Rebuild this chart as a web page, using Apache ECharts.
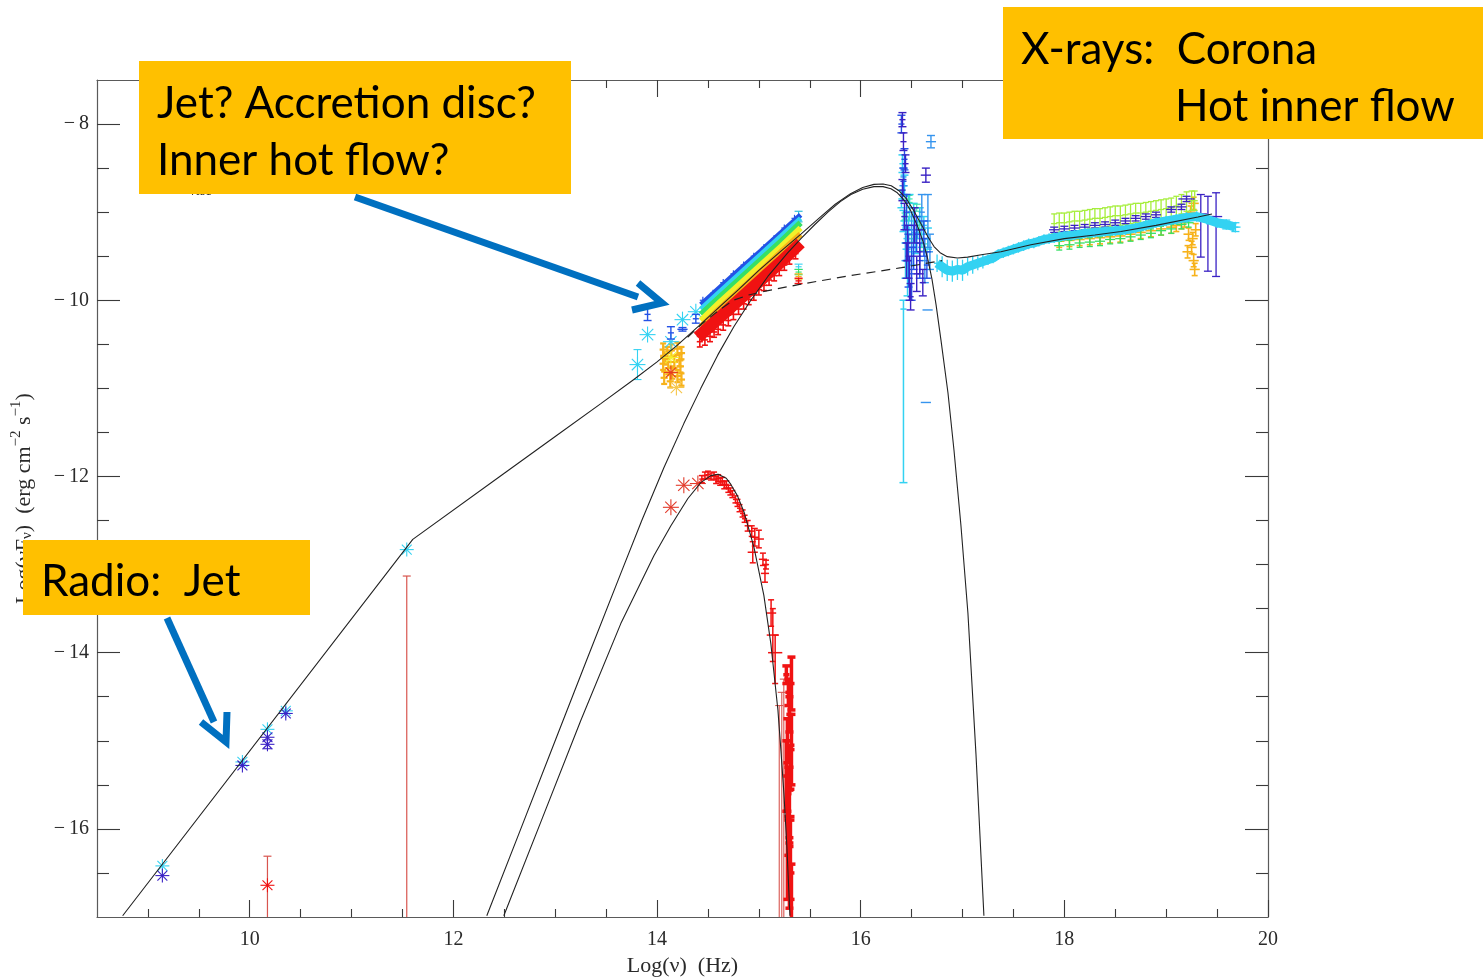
<!DOCTYPE html>
<html>
<head>
<meta charset="utf-8">
<script src="https://cdn.jsdelivr.net/npm/echarts@6/dist/echarts.min.js"></script>
<style>
  html, body { margin: 0; padding: 0; background: #fff; }
  #chart { width: 1483px; height: 978px; }
</style>
</head>
<body>
<div id="chart"></div>
<script>
// ---------------- axes ----------------
const xRange = [8.5, 20];
const yRange = [-17, -7.5];
const xMajorTicks = [10, 12, 14, 16, 18, 20];
const xMinorTicks = [9, 9.5, 10.5, 11, 11.5, 12.5, 13, 13.5, 14.5, 15, 15.5, 16.5, 17, 17.5, 18.5, 19, 19.5];
const yMajorTicks = [-16, -14, -12, -10, -8];
const yMinorTicks = [-16.5, -15.5, -15, -14.5, -13.5, -13, -12.5, -11.5, -11, -10.5, -9.5, -9, -8.5];

// ---------------- model curves: log(nu), log(nu F_nu) ----------------
const modelTotal = [
  [8.752, -16.986], [11.601, -12.714], [12.5, -11.964], [13.0, -11.547], [13.448, -11.173],
  [13.772, -10.90], [14.0, -10.70], [14.2, -10.51], [14.43, -10.27], [14.627, -10.06],
  [14.8, -9.88], [15.0, -9.66], [15.2, -9.46], [15.413, -9.25], [15.6, -9.06],
  [15.75, -8.91], [15.9, -8.79], [16.02, -8.72], [16.13, -8.685], [16.22, -8.68],
  [16.3, -8.70], [16.38, -8.76], [16.45, -8.85], [16.52, -8.98], [16.59, -9.13],
  [16.66, -9.28], [16.72, -9.39], [16.78, -9.46], [16.85, -9.505], [16.95, -9.52],
  [17.05, -9.51], [17.2, -9.48], [17.377, -9.45], [17.672, -9.37], [18.0, -9.30],
  [18.3, -9.26], [18.556, -9.22], [18.9, -9.15], [19.312, -9.055], [19.45, -9.02]
];
const modelDisc = [
  [12.328, -16.986], [12.662, -16.0], [12.986, -15.04], [13.31, -14.08], [13.644, -13.1],
  [13.85, -12.5], [14.067, -11.9], [14.263, -11.4], [14.43, -11.0], [14.597, -10.62],
  [14.754, -10.3], [14.921, -10.0], [15.088, -9.73], [15.285, -9.46], [15.413, -9.30],
  [15.55, -9.14], [15.678, -9.0], [15.8, -8.88], [15.904, -8.80], [16.02, -8.74],
  [16.13, -8.71], [16.22, -8.71], [16.297, -8.735], [16.36, -8.78], [16.424, -8.86],
  [16.49, -8.98], [16.562, -9.17], [16.62, -9.36], [16.66, -9.54], [16.70, -9.76],
  [16.74, -10.05], [16.788, -10.45], [16.857, -11.05], [16.916, -11.70], [16.984, -12.55],
  [17.053, -13.55], [17.132, -15.15], [17.21, -16.986]
];
const modelStar = [
  [12.495, -16.986], [12.859, -15.92], [13.251, -14.77], [13.644, -13.67], [13.969, -12.9],
  [14.136, -12.56], [14.303, -12.25], [14.43, -12.07], [14.528, -11.99], [14.6, -11.975],
  [14.68, -12.02], [14.725, -12.09], [14.79, -12.22], [14.853, -12.40], [14.951, -12.80],
  [15.049, -13.35], [15.118, -13.9], [15.187, -14.65], [15.216, -15.1], [15.246, -15.6],
  [15.275, -16.2], [15.305, -16.986]
];
const modelCorona = [
  [14.3, -10.42], [14.45, -10.26], [14.6, -10.12], [14.75, -10.0], [14.9, -9.94],
  [15.05, -9.9], [15.4, -9.82], [15.9, -9.72], [16.4, -9.63], [16.8, -9.55]
];

// ---------------- measurements: [logNu, logNuFnu, errDown, errUp, halfWidthX] ----------------
const radioCyan = [[9.142, -16.42], [9.928, -15.24], [10.174, -14.87], [10.354, -14.66], [11.542, -12.83]];
const radioBlue = [[9.142, -16.53], [9.928, -15.28], [10.174, -14.96], [10.174, -15.04, 0.05, 0.05], [10.354, -14.69]];
const radioRedStar = [[10.174, -16.64]];
const radioRedLimits = [[10.174, -16.31], [11.542, -13.13]];

const irCyanStars = [[13.808, -10.73, 0.17, 0.17], [13.907, -10.39], [14.136, -10.47], [14.25, -10.22], [14.381, -10.13]];
const irBlue = [[13.907, -10.16, 0.07, 0.07, 0.03], [14.136, -10.37, 0.07, 0.07, 0.03], [14.25, -10.33, 0.02, 0.02, 0.05], [14.381, -10.21, 0.05, 0.05, 0.03]];
const irYellowStar = [[14.136, -10.65]];
const irRedStar = [[14.136, -10.82]];
const irOrangeStar = [[14.19, -10.99]];
const irOrange = [
  [14.06, -10.56], [14.10, -10.60], [14.14, -10.57], [14.20, -10.55], [14.24, -10.60],
  [14.06, -10.72], [14.11, -10.77], [14.17, -10.70], [14.23, -10.75], [14.07, -10.88],
  [14.13, -10.92], [14.20, -10.86], [14.24, -10.90], [14.15, -10.82], [14.08, -10.66], [14.22, -10.68]
];

const optBlue   = [[14.43, -10.05], [14.62, -9.85], [14.82, -9.64], [15.02, -9.44], [15.22, -9.23], [15.41, -9.03]];
const optCyan   = [[14.43, -10.10], [14.62, -9.90], [14.82, -9.69], [15.02, -9.48], [15.22, -9.27], [15.41, -9.07]];
const optGreen  = [[14.43, -10.16], [14.62, -9.96], [14.82, -9.75], [15.02, -9.54], [15.22, -9.33], [15.41, -9.12]];
const optYellow = [[14.43, -10.23], [14.62, -10.02], [14.82, -9.81], [15.02, -9.60], [15.22, -9.39], [15.41, -9.18]];
const optOrange = [[14.43, -10.30], [14.62, -10.09], [14.82, -9.88], [15.02, -9.67], [15.22, -9.45], [15.41, -9.25]];
const optRed    = [[14.40, -10.42], [14.62, -10.19], [14.82, -9.98], [15.02, -9.77], [15.22, -9.56], [15.41, -9.35]];
const optRedScatter = [
  [14.42, -10.47], [14.47, -10.45], [14.52, -10.41], [14.56, -10.36], [14.6, -10.33], [14.65, -10.28],
  [14.7, -10.23], [14.75, -10.16], [14.8, -10.10], [14.85, -10.04], [14.9, -9.99], [14.95, -9.94],
  [15.0, -9.88], [15.05, -9.83], [15.1, -9.77], [15.15, -9.72], [15.2, -9.66], [15.25, -9.60], [15.3, -9.53], [15.36, -9.47]
];
const optTopScatter = [
  [14.45, -10.0], [14.55, -9.92], [14.65, -9.80], [14.75, -9.70], [14.85, -9.60], [14.95, -9.50],
  [15.05, -9.40], [15.15, -9.30], [15.25, -9.18], [15.35, -9.07]
];
const optCapCyan = [[15.39, -9.05, 0.06, 0.06, 0.03]];
const uvCyan   = [[15.39, -9.62]];
const uvGreen  = [[15.39, -9.68]];
const uvOrange = [[15.39, -9.73]];
const uvRed    = [[15.39, -9.78]];

const starRedStars = [[14.136, -12.35], [14.263, -12.10], [14.401, -12.08]];
const starRed = [
  [14.44, -12.03], [14.47, -11.99], [14.50, -11.98], [14.53, -12.00], [14.56, -11.99],
  [14.58, -12.04], [14.60, -12.02], [14.62, -12.06], [14.64, -12.05], [14.66, -12.10],
  [14.68, -12.09], [14.70, -12.14], [14.72, -12.17], [14.74, -12.20], [14.77, -12.26],
  [14.79, -12.30], [14.81, -12.36], [14.84, -12.42], [14.86, -12.48],
  [14.89, -12.56, 0.06, 0.06, 0.03], [14.93, -12.62, 0.06, 0.06, 0.03],
  [14.96, -12.69, 0.1, 0.1, 0.04], [15.0, -12.71, 0.1, 0.1, 0.05], [14.94, -12.86, 0.12, 0.12, 0.05],
  [15.04, -12.94, 0.07, 0.07, 0.04], [15.06, -13.10, 0.1, 0.1, 0.04], [15.07, -13.0, 0.05, 0.05, 0.03],
  [15.12, -13.55, 0.15, 0.15, 0.05], [15.137, -13.80, 0.3, 0.3, 0.06], [15.16, -14.0, 0.35, 0.2, 0.07]
];
const starRedTail = [
  [15.27, -14.25, 0.1, 0.1], [15.29, -14.45, 0.15, 0.15], [15.30, -14.70, 0.2, 0.2], [15.28, -15.0, 0.25, 0.25],
  [15.31, -15.30, 0.25, 0.25], [15.29, -15.60, 0.3, 0.3], [15.30, -15.86, 0.3, 0.3, 0.05], [15.31, -16.20, 0.3, 0.3],
  [15.30, -16.50, 0.4, 0.4], [15.32, -16.80, 0.4, 0.4], [15.32, -14.35, 0.3, 0.3], [15.27, -15.4, 0.4, 0.4],
  [15.28, -16.3, 0.5, 0.5], [15.32, -15.1, 0.4, 0.4]
];
const starRedLimits = [[15.20, -14.6], [15.225, -14.45], [15.245, -14.3]];

const xPurple = [
  [16.41, -7.95, 0.08, 0.08], [16.42, -8.20, 0.1, 0.1], [16.44, -8.45, 0.1, 0.1], [16.41, -8.75, 0.12, 0.12],
  [16.43, -9.05, 0.15, 0.15], [16.46, -9.35, 0.2, 0.2], [16.48, -9.75, 0.25, 0.25], [16.49, -9.96, 0.15, 0.15],
  [16.55, -9.70, 0.2, 0.2], [16.61, -9.80, 0.15, 0.15], [16.64, -8.58, 0.08, 0.08, 0.05], [16.53, -9.15, 0.2, 0.2],
  [16.45, -9.55, 0.2, 0.2], [16.58, -9.45, 0.25, 0.25]
];
const xBlue = [
  [16.40, -8.00, 0.1, 0.1], [16.43, -8.40, 0.12, 0.12], [16.45, -9.00, 0.2, 0.2], [16.47, -9.55, 0.3, 0.3],
  [16.52, -9.40, 0.25, 0.25], [16.58, -9.55, 0.2, 0.2], [16.62, -9.30, 0.2, 0.2], [16.65, -9.60, 0.15, 0.15],
  [16.42, -8.65, 0.15, 0.15], [16.50, -9.70, 0.3, 0.3], [16.55, -9.25, 0.2, 0.2]
];
const xLightBlue = [
  [16.69, -8.20, 0.07, 0.07, 0.05], [16.657, -10.11, 0, 0, 0.05], [16.64, -11.16, 0, 0, 0.05],
  [16.42, -8.60, 0.1, 0.1], [16.50, -9.20, 0.2, 0.2], [16.60, -9.00, 0.2, 0.2], [16.66, -9.10, 0.3, 0.3],
  [16.44, -9.35, 0.2, 0.2], [16.63, -9.55, 0.25, 0.25], [16.68, -9.45, 0.2, 0.2]
];
const xCyan = [
  [16.40, -8.85, 0.1, 0.1], [16.42, -9.10, 0.12, 0.12], [16.45, -9.30, 0.12, 0.12], [16.48, -8.95, 0.15, 0.15],
  [16.52, -9.05, 0.15, 0.15], [16.56, -9.20, 0.1, 0.1], [16.60, -9.30, 0.1, 0.1], [16.44, -9.55, 0.2, 0.2],
  [16.42, -10.10, 1.97, 0.1], [16.41, -8.45, 0.1, 0.1], [16.43, -8.70, 0.12, 0.12], [16.47, -9.15, 0.1, 0.1],
  [16.50, -9.45, 0.15, 0.15], [16.54, -9.35, 0.12, 0.12], [16.58, -9.05, 0.1, 0.1], [16.62, -9.15, 0.1, 0.1],
  [16.66, -9.30, 0.12, 0.12], [16.46, -9.75, 0.2, 0.2]
];
const xTeal = [[16.44, -9.05], [16.50, -9.30], [16.58, -9.15], [16.62, -9.40], [16.47, -8.85], [16.55, -8.95]];

const xraySpec = [
  [16.75, -9.58, 0.1], [16.80, -9.62, 0.12], [16.85, -9.66, 0.12], [16.90, -9.67, 0.12], [16.95, -9.65, 0.12], [17.00, -9.66, 0.12],
  [17.05, -9.62, 0.1], [17.10, -9.60, 0.1], [17.15, -9.58, 0.08], [17.20, -9.56, 0.08], [17.25, -9.54], [17.30, -9.52],
  [17.35, -9.48], [17.40, -9.46], [17.45, -9.44], [17.50, -9.42], [17.55, -9.40], [17.60, -9.38],
  [17.65, -9.36], [17.70, -9.35], [17.75, -9.33], [17.80, -9.31], [17.85, -9.30], [17.90, -9.29],
  [17.95, -9.28], [18.00, -9.27], [18.10, -9.26], [18.20, -9.24], [18.30, -9.23], [18.40, -9.22],
  [18.50, -9.21], [18.60, -9.20], [18.70, -9.18], [18.80, -9.15], [18.90, -9.12], [19.00, -9.10],
  [19.10, -9.08], [19.20, -9.06], [19.30, -9.05], [19.40, -9.08], [19.50, -9.12], [19.59, -9.14], [19.68, -9.17]
];
const xrayLime = [
  [17.90, -9.13], [17.95, -9.12], [18.00, -9.12], [18.05, -9.11], [18.10, -9.10], [18.15, -9.10],
  [18.20, -9.09], [18.25, -9.08], [18.30, -9.07], [18.35, -9.07], [18.40, -9.06], [18.45, -9.05],
  [18.50, -9.04], [18.55, -9.04], [18.60, -9.03], [18.65, -9.02], [18.70, -9.01], [18.75, -9.01],
  [18.80, -9.00], [18.85, -8.99], [18.90, -8.98], [18.95, -8.97], [19.00, -8.96], [19.05, -8.95],
  [19.10, -8.93], [19.15, -8.91], [19.20, -8.88], [19.25, -8.87], [19.28, -8.87]
];
const xrayGreen = [
  [17.95, -9.38], [18.05, -9.37], [18.15, -9.35], [18.25, -9.34], [18.35, -9.33], [18.45, -9.31],
  [18.55, -9.30], [18.65, -9.28], [18.75, -9.26], [18.85, -9.24], [18.95, -9.21], [19.05, -9.19], [19.15, -9.14], [19.22, -9.12]
];
const xrayOrange = [
  [17.95, -9.33], [18.05, -9.32], [18.15, -9.31], [18.25, -9.30], [18.35, -9.29], [18.45, -9.28],
  [18.55, -9.27], [18.65, -9.25], [18.75, -9.23], [18.85, -9.21], [18.95, -9.19], [19.05, -9.17],
  [19.10, -9.15], [19.15, -9.12], [19.18, -9.10], [19.22, -9.25], [19.25, -9.40], [19.27, -9.55], [19.28, -9.65],
  [19.26, -9.30], [19.24, -9.00], [19.27, -8.90], [19.21, -9.45], [19.29, -9.20]
];
const xrayPurple = [
  [17.90, -9.20], [18.00, -9.19], [18.10, -9.18], [18.20, -9.17], [18.30, -9.15], [18.40, -9.14],
  [18.50, -9.12], [18.60, -9.10], [18.70, -9.07], [18.80, -9.05], [18.90, -9.03],
  [19.05, -8.97], [19.15, -8.94], [19.20, -8.85, 0.03, 0.03, 0.08],
  [19.34, -9.02, 0.49, 0.22, 0.06], [19.41, -9.05, 0.62, 0.23, 0.06], [19.49, -9.05, 0.68, 0.27, 0.06]
];
const xrayCyanEnd = [[19.59, -9.14, 0.05, 0.05, 0.05], [19.68, -9.17, 0.05, 0.05, 0.05]];

// ---------------- drawing helpers ----------------
const SERIF = '"Liberation Serif", "DejaVu Serif", serif';

function markRender(color, o) {
  const lw = o.lw || 1.1;
  const cap = o.cap == null ? 4 : o.cap;
  const ast = o.ast || 0;
  return function (params, api) {
    const x = api.value(0), y = api.value(1);
    const lo = api.value(2), hi = api.value(3), dx = api.value(4);
    const c = api.coord([x, y]);
    const st = { stroke: color, lineWidth: lw };
    const kids = [];
    const seg = (x1, y1, x2, y2) => kids.push({ type: 'line', shape: { x1, y1, x2, y2 }, style: st });
    if (lo > 0 || hi > 0) {
      const a = api.coord([x, y - lo])[1];
      const b = api.coord([x, y + hi])[1];
      seg(c[0], a, c[0], b);
      if (cap) { seg(c[0] - cap, a, c[0] + cap, a); seg(c[0] - cap, b, c[0] + cap, b); }
    }
    if (dx > 0) {
      const l = api.coord([x - dx, y])[0];
      const r = api.coord([x + dx, y])[0];
      seg(l, c[1], r, c[1]);
    }
    if (ast) {
      for (let k = 0; k < 4; k++) {
        const t = k * Math.PI / 4;
        const ux = ast * Math.cos(t), uy = ast * Math.sin(t);
        seg(c[0] - ux, c[1] - uy, c[0] + ux, c[1] + uy);
      }
    }
    // keep error bars inside the plotting frame
    const cs = params.coordSys;
    return {
      type: 'group', children: kids,
      clipPath: { type: 'rect', shape: { x: cs.x, y: cs.y, width: cs.width, height: cs.height } }
    };
  };
}

function marks(name, pts, color, o) {
  o = o || {};
  const dy = o.dy || 0, dx = o.dx || 0;
  return {
    name, type: 'custom', silent: true, z: o.z || 3, clip: true,
    renderItem: markRender(color, o),
    dimensions: ['x', 'y', 'lo', 'hi', 'dx'],
    encode: { x: 0, y: 1 },
    data: pts.map(p => [p[0], p[1],
      p[2] != null ? p[2] : dy, p[3] != null ? p[3] : (p[2] != null ? p[2] : dy), p[4] != null ? p[4] : dx])
  };
}

// upper limits: bar from the quoted value down to the bottom of the frame
function limits(name, pts, color, lw) {
  return {
    name, type: 'custom', silent: true, z: 3, clip: true,
    dimensions: ['x', 'y'], encode: { x: 0, y: 1 },
    data: pts,
    renderItem: function (params, api) {
      const x = api.value(0), top = api.value(1);
      const a = api.coord([x, top]), b = api.coord([x, yRange[0]]);
      const st = { stroke: color, lineWidth: lw || 1.1 };
      return { type: 'group', children: [
        { type: 'line', shape: { x1: a[0], y1: a[1], x2: b[0], y2: b[1] }, style: st },
        { type: 'line', shape: { x1: a[0] - 4, y1: a[1], x2: a[0] + 4, y2: a[1] }, style: st }
      ] };
    }
  };
}

function curve(name, pts, color, width, dashed, z) {
  return {
    name, type: 'line', data: pts, showSymbol: false, symbol: 'none', silent: true,
    z: z || 6, animation: false,
    lineStyle: { color, width, type: dashed ? [9, 6] : 'solid', cap: 'butt' }
  };
}

// ---------------- axes (frame with inward ticks on every side) ----------------
function xAxisDef(pos, ticks, len, labels) {
  return {
    type: 'value', min: xRange[0], max: xRange[1], position: pos,
    axisLine: { show: len > 10, lineStyle: { color: '#5a5a5a', width: 1.2 } },
    axisTick: { show: true, inside: true, length: len, customValues: ticks, lineStyle: { color: '#3a3a3a', width: 1.1 } },
    axisLabel: labels ? { show: true, customValues: ticks, color: '#2a2a2a', fontFamily: SERIF, fontSize: 20, margin: 13 } : { show: false },
    splitLine: { show: false }
  };
}
function yAxisDef(pos, ticks, len, labels) {
  return {
    type: 'value', min: yRange[0], max: yRange[1], position: pos,
    axisLine: { show: len > 14, lineStyle: { color: '#5a5a5a', width: 1.2 } },
    axisTick: { show: true, inside: true, length: len, customValues: ticks, lineStyle: { color: '#3a3a3a', width: 1.1 } },
    axisLabel: labels ? {
      show: true, customValues: ticks, color: '#2a2a2a', fontFamily: SERIF, fontSize: 20, margin: 8,
      formatter: v => '\u2212\u2009' + Math.abs(v)
    } : { show: false },
    splitLine: { show: false }
  };
}

const xAxes = [
  Object.assign(xAxisDef('bottom', xMajorTicks, 17, true), {
    name: 'Log(\u03bd)  (Hz)', nameLocation: 'middle', nameGap: 38,
    nameTextStyle: { fontFamily: SERIF, fontSize: 22, color: '#2a2a2a' }
  }),
  xAxisDef('bottom', xMinorTicks, 8, false),
  xAxisDef('top', xMajorTicks, 17, false),
  xAxisDef('top', xMinorTicks, 8, false)
];
const yAxes = [
  Object.assign(yAxisDef('left', yMajorTicks, 23, true), {
    name: '{a|Log(\u03bdF}{s|\u03bd}{a|)  (erg cm}{u|\u22122}{a| s}{u|\u22121}{a|)}',
    nameLocation: 'middle', nameGap: 62, nameRotate: 90,
    nameTextStyle: {
      color: '#2a2a2a',
      rich: {
        a: { fontFamily: SERIF, fontSize: 22, color: '#2a2a2a', lineHeight: 26, verticalAlign: 'bottom' },
        s: { fontFamily: SERIF, fontSize: 15, color: '#2a2a2a', lineHeight: 26, verticalAlign: 'bottom' },
        u: { fontFamily: SERIF, fontSize: 15, color: '#2a2a2a', lineHeight: 26, verticalAlign: 'top' }
      }
    }
  }),
  yAxisDef('left', yMinorTicks, 12, false),
  yAxisDef('right', yMajorTicks, 23, false),
  yAxisDef('right', yMinorTicks, 12, false)
];

// ---------------- series ----------------
const C = {
  purple: '#3a22c4', blue: '#2452e6', light: '#3594ee', cyan: '#33d2f2', teal: '#3fe3b0',
  green: '#36e064', lime: '#a6ee3c', yellow: '#f4f02a', orange: '#f7b21a', red: '#f01212', limit: '#d8554f'
};

const series = [
  // radio
  limits('radio limits', radioRedLimits, C.limit, 1.2),
  marks('radio red', radioRedStar, C.red, { ast: 7 }),
  marks('radio cyan', radioCyan, C.cyan, { ast: 7 }),
  marks('radio blue', radioBlue, C.purple, { ast: 7 }),
  // infrared
  marks('ir orange', irOrange, C.orange, { dy: 0.07, dx: 0.035, lw: 2.2, cap: 3 }),
  marks('ir orange star', irOrangeStar, '#f6c64a', { ast: 8 }),
  marks('ir yellow star', irYellowStar, C.yellow, { ast: 8 }),
  marks('ir red star', irRedStar, '#e63a20', { ast: 7 }),
  marks('ir cyan', irCyanStars, C.cyan, { ast: 8 }),
  marks('ir blue', irBlue, C.blue, { lw: 1.4 }),
  // optical / UV spectra
  marks('opt top scatter', optTopScatter, C.blue, { dy: 0.04, dx: 0.03, lw: 1.2, cap: 0 }),
  curve('opt blue', optBlue, C.blue, 5, false, 3),
  curve('opt cyan', optCyan, C.cyan, 5, false, 3),
  curve('opt green', optGreen, C.green, 6, false, 3),
  curve('opt yellow', optYellow, C.yellow, 6, false, 3),
  curve('opt orange', optOrange, C.orange, 6, false, 3),
  curve('opt red', optRed, C.red, 12, false, 3),
  marks('opt red scatter', optRedScatter, C.red, { dy: 0.06, dx: 0.03, lw: 1.6, cap: 3 }),
  marks('opt cap', optCapCyan, '#2fbfd8', { lw: 1.2 }),
  marks('uv cyan', uvCyan, C.cyan, { dy: 0.03, dx: 0.03 }),
  marks('uv green', uvGreen, C.green, { dy: 0.03, dx: 0.03 }),
  marks('uv orange', uvOrange, C.orange, { dy: 0.03, dx: 0.03 }),
  marks('uv red', uvRed, C.red, { dy: 0.03, dx: 0.03, lw: 1.4 }),
  // companion star
  marks('star stars', starRedStars, '#e23a2a', { ast: 8 }),
  marks('star red', starRed, C.red, { dy: 0.04, dx: 0.025, lw: 1.5, cap: 3 }),
  limits('star limits', starRedLimits, C.limit, 1.1),
  marks('star tail', starRedTail, C.red, { dx: 0.03, lw: 3.5, cap: 4 }),
  // UV / soft X-ray cluster
  marks('x cyan', xCyan, C.cyan, { dx: 0.03, lw: 1.5 }),
  marks('x teal', xTeal, C.teal, { dy: 0.04, dx: 0.04, lw: 1.2 }),
  marks('x light', xLightBlue, C.light, { dx: 0.03, lw: 1.4 }),
  marks('x blue', xBlue, C.blue, { dx: 0.03, lw: 1.4 }),
  marks('x purple', xPurple, C.purple, { dx: 0.03, lw: 1.4 }),
  // X-ray spectra
  marks('xray orange', xrayOrange, C.orange, { dy: 0.07, dx: 0.05, lw: 1.6, cap: 3 }),
  marks('xray green', xrayGreen, C.green, { dy: 0.05, dx: 0.05, lw: 1.3, cap: 3 }),
  marks('xray lime', xrayLime, C.lime, { dy: 0.11, dx: 0.03, lw: 1.3, cap: 3 }),
  marks('xray purple', xrayPurple, C.purple, { dy: 0.03, dx: 0.05, lw: 1.3, cap: 4 }),
  curve('xray cyan band', xraySpec, C.cyan, 9, false, 3),
  marks('xray cyan', xraySpec, C.cyan, { dy: 0.06, dx: 0.03, lw: 1.3, cap: 0 }),
  marks('xray cyan end', xrayCyanEnd, C.cyan, { lw: 1.3 }),
  // models
  curve('corona', modelCorona, '#222', 1.2, true),
  curve('star model', modelStar, '#222', 1.1),
  curve('disc model', modelDisc, '#222', 1.1),
  curve('total model', modelTotal, '#222', 1.1)
];

// ---------------- annotation boxes and arrows ----------------
const BOX = '#ffc000', ARROW = '#0070c0';
const SANS = 'Lato, "Open Sans", sans-serif';
function label(txt, x, y, size) {
  return { type: 'text', x, y, z: 102, silent: true,
    style: { text: txt, fontFamily: SANS, fontSize: size, fill: '#000', verticalAlign: 'middle', align: 'left' } };
}
const graphic = [
  { type: 'text', x: 189, y: 184, z: 50, silent: true,
    style: { text: 'visc', fontFamily: SERIF, fontSize: 14, fill: '#222' } },
  { type: 'rect', z: 100, silent: true, shape: { x: 139, y: 61, width: 432, height: 133 }, style: { fill: BOX } },
  label('Jet? Accretion disc?', 157, 104, 44),
  label('Inner hot flow?', 157, 161, 44),
  { type: 'rect', z: 100, silent: true, shape: { x: 1003, y: 7, width: 480, height: 132 }, style: { fill: BOX } },
  label('X-rays:  Corona', 1021, 50, 44),
  label('Hot inner flow', 1175, 107, 44),
  { type: 'rect', z: 100, silent: true, shape: { x: 23, y: 540, width: 287, height: 75 }, style: { fill: BOX } },
  label('Radio:  Jet', 41, 582, 44),
  { type: 'line', z: 103, silent: true, shape: { x1: 355, y1: 197, x2: 638, y2: 297 }, style: { stroke: ARROW, lineWidth: 7 } },
  { type: 'polyline', z: 103, silent: true, shape: { points: [[638, 283], [662, 303], [632, 310]] },
    style: { stroke: ARROW, lineWidth: 7, fill: null, lineJoin: 'miter' } },
  { type: 'line', z: 103, silent: true, shape: { x1: 167, y1: 618, x2: 214, y2: 722 }, style: { stroke: ARROW, lineWidth: 7 } },
  { type: 'polyline', z: 103, silent: true, shape: { points: [[201, 722], [226, 742], [227, 712]] },
    style: { stroke: ARROW, lineWidth: 7, fill: null, lineJoin: 'miter' } }
];

const chart = echarts.init(document.getElementById('chart'), null, { renderer: 'canvas' });
chart.setOption({
  animation: false,
  backgroundColor: '#ffffff',
  grid: { left: 97, top: 80, width: 1171, height: 837, containLabel: false, outerBoundsMode: 'none' },
  xAxis: xAxes,
  yAxis: yAxes,
  series,
  graphic
});
</script>
</body>
</html>
